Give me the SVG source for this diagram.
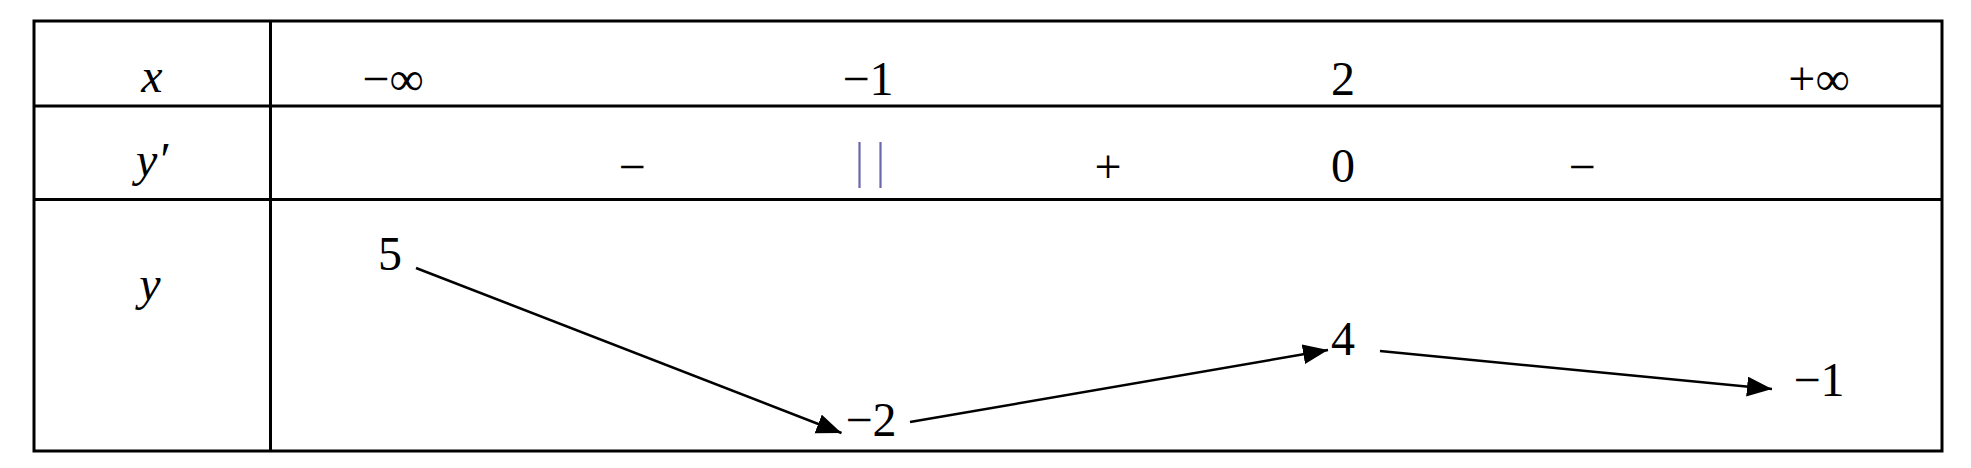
<svg xmlns="http://www.w3.org/2000/svg" width="1971" height="468" viewBox="0 0 1971 468">
<style>
  .grid { stroke: #000; stroke-width: 3; fill: none; }
  .t { font-family: "Liberation Serif", "Times New Roman", serif; font-size: 48px; fill: #000; text-anchor: middle; }
  .it { font-style: italic; }
  .conn { stroke: #000; stroke-width: 2.5; fill: none; }
  .bar { stroke: #6b67aa; stroke-width: 2.2; }
</style>
<defs>
  <marker id="ah" markerUnits="userSpaceOnUse" markerWidth="26" markerHeight="22" refX="25" refY="10" orient="auto">
    <path d="M0,0 L25,10 L0,20 z" fill="#000"/>
  </marker>
</defs>
<rect width="1971" height="468" fill="#fff"/>
<g id="table">
  <rect class="grid" x="34" y="21" width="1908" height="430"/>
  <line class="grid" x1="270.5" y1="21" x2="270.5" y2="451"/>
  <line class="grid" x1="34" y1="106" x2="1942" y2="106"/>
  <line class="grid" x1="34" y1="199.5" x2="1942" y2="199.5"/>
</g>
<g id="labels">
  <text class="t it" x="152" y="92">x</text>
  <text class="t it" x="152" y="176">y′</text>
  <text class="t it" x="150" y="300">y</text>
</g>
<g id="x-row">
  <text class="t" x="393" y="95">−∞</text>
  <text class="t" x="868" y="95">−1</text>
  <text class="t" x="1343" y="95">2</text>
  <text class="t" x="1819" y="95">+∞</text>
</g>
<g id="yprime-row">
  <text class="t" x="632" y="183">−</text>
  <line class="bar" x1="859.5" y1="142" x2="859.5" y2="188"/>
  <line class="bar" x1="880.5" y1="142" x2="880.5" y2="188"/>
  <text class="t" x="1108" y="183">+</text>
  <text class="t" x="1343" y="182">0</text>
  <text class="t" x="1582" y="183">−</text>
</g>
<g id="y-values">
  <text id="v5" class="t" x="390" y="270">5</text>
  <text id="vm2" class="t" x="871" y="436">−2</text>
  <text id="v4" class="t" x="1343" y="355">4</text>
  <text id="vm1" class="t" x="1819" y="396">−1</text>
</g>
<g id="connectors">
  <line class="conn" x1="416" y1="268" x2="841.5" y2="433" marker-end="url(#ah)"/>
  <line class="conn" x1="910" y1="422" x2="1328" y2="350" marker-end="url(#ah)"/>
  <line class="conn" x1="1380" y1="351" x2="1772" y2="389" marker-end="url(#ah)"/>
</g>
</svg>
